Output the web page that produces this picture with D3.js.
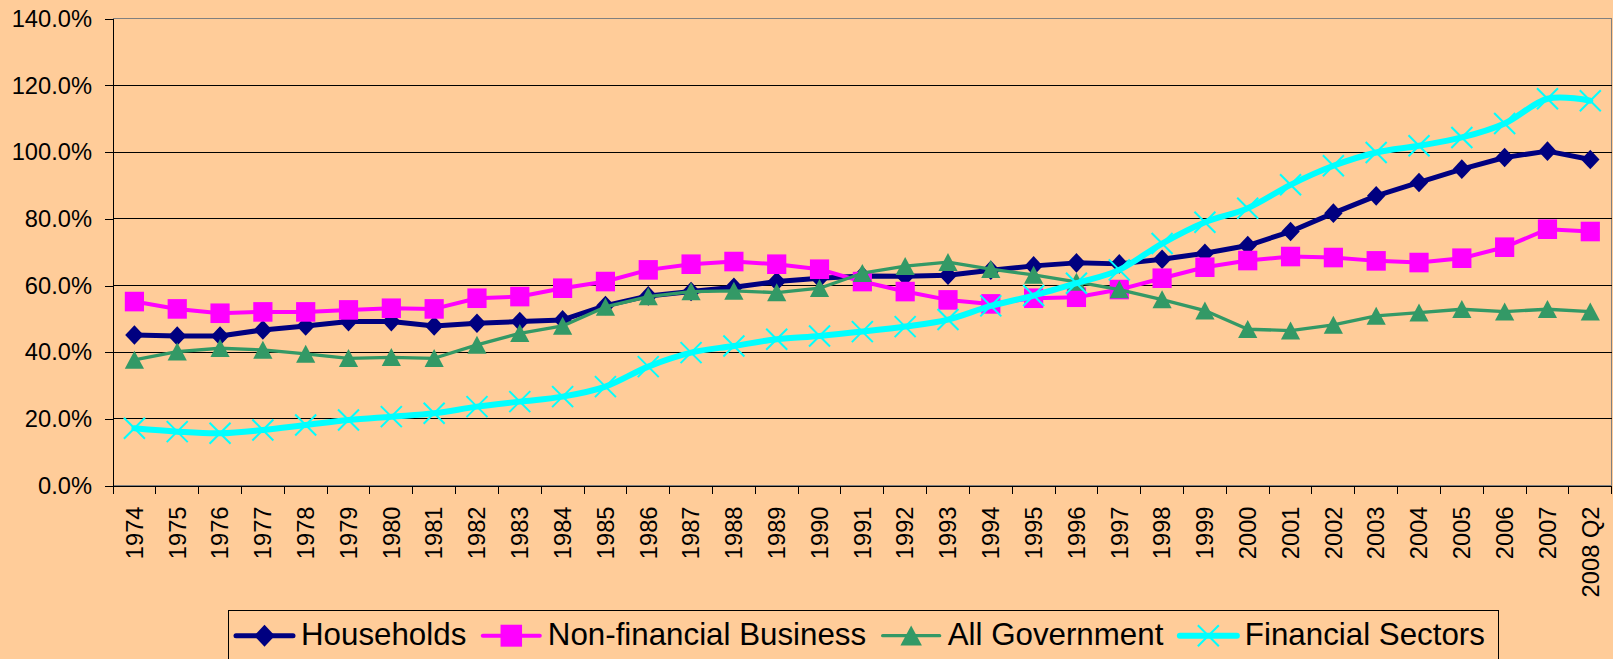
<!DOCTYPE html>
<html><head><meta charset="utf-8">
<script src="https://cdn.jsdelivr.net/npm/d3@7"></script>
<style>
html,body{margin:0;padding:0;background:#FFCC99;}
svg{display:block;}
text{font-family:"Liberation Sans",Arial,sans-serif;fill:#000;}
</style></head><body>
<svg id="chart" width="1613" height="659"></svg>
<script>
// ---------------- data ----------------
const categories = ["1974","1975","1976","1977","1978","1979","1980","1981","1982","1983",
  "1984","1985","1986","1987","1988","1989","1990","1991","1992","1993","1994","1995",
  "1996","1997","1998","1999","2000","2001","2002","2003","2004","2005","2006","2007","2008 Q2"];
const households = [45.2,44.9,44.9,46.7,47.9,49.2,49.2,47.9,48.7,49.2,49.7,54.0,56.9,58.2,59.5,61.2,62.2,62.9,62.8,63.1,64.6,65.9,66.8,66.5,67.9,69.7,72.0,76.2,81.7,86.9,90.9,94.9,98.4,100.3,97.8];
const nonFinancialBusiness = [55.2,53.0,51.7,52.1,52.1,52.7,53.2,53.0,56.2,56.7,59.2,61.2,64.7,66.4,67.2,66.4,64.9,61.2,58.2,55.7,54.5,56.2,56.5,58.8,62.2,65.5,67.5,68.7,68.4,67.4,66.9,68.2,71.5,76.9,76.2];
const allGovernment = [37.7,40.2,41.2,40.7,39.5,38.2,38.5,38.2,42.2,45.7,47.9,53.6,56.7,58.2,58.4,57.9,59.2,63.7,65.8,67.0,64.9,63.2,61.1,58.8,55.8,52.5,46.9,46.5,48.2,50.9,51.9,52.9,52.2,52.9,52.2];
const financialSectors = [17.2,16.2,15.7,16.7,18.2,19.7,20.7,21.7,23.7,25.2,26.7,29.7,35.7,39.9,41.9,43.9,44.9,46.2,47.7,49.8,53.9,57.0,60.7,64.7,72.6,79.0,83.2,90.2,95.9,99.9,101.9,104.4,108.6,116.0,115.4];
const seriesNames = ["Households","Non-financial Business","All Government","Financial Sectors"];
const yTickValues = [0,20,40,60,80,100,120,140];

// ---------------- styles ----------------
const seriesValues = [households, nonFinancialBusiness, allGovernment, financialSectors];
const styles = [
  {color:"#000080", width:5,   marker:"diamond", smooth:false},
  {color:"#FF00FF", width:4,   marker:"square",  smooth:false},
  {color:"#339966", width:3.3, marker:"triangle",smooth:false},
  {color:"#00FFFF", width:6,   marker:"x",       smooth:true}
];
const series = seriesNames.map((n,i)=>({name:n, values:seriesValues[i], style:styles[i]}));

const svg = d3.select("#chart");
const L = 113, R = 1611.7, T = 18.7, B = 485.7;

const x = d3.scaleBand().domain(categories).range([L, R]).padding(0);
const y = d3.scaleLinear().domain([0, 140]).range([B, T]);
const cx = c => x(c) + x.bandwidth()/2;

// plot border
svg.append("rect").attr("x", L).attr("y", T).attr("width", R-L).attr("height", B-T)
  .attr("fill", "none").attr("stroke", "#808080").attr("stroke-width", 1)
  .attr("shape-rendering","crispEdges");

// gridlines
svg.append("g").selectAll("line").data(yTickValues.filter(v=>v>0 && v<140)).join("line")
  .attr("x1", L).attr("x2", R).attr("y1", d=>y(d)).attr("y2", d=>y(d))
  .attr("stroke", "#000").attr("stroke-width", 1).attr("shape-rendering","crispEdges");

// y axis
const yAxis = svg.append("g").attr("transform", `translate(${L},0)`)
  .call(d3.axisLeft(y).tickValues(yTickValues).tickSize(8).tickPadding(13)
    .tickFormat(d => d.toFixed(1) + "%"));
yAxis.selectAll("path,line").attr("stroke","#000").attr("shape-rendering","crispEdges");
yAxis.selectAll("text").style("font-size","23.7px").style("font-family",'"Liberation Sans",Arial,sans-serif').attr("fill","#000");

// x axis
const xAxis = svg.append("g").attr("transform", `translate(0,${B})`)
  .call(d3.axisBottom(x).tickSize(0).tickSizeOuter(0));
xAxis.select(".domain").attr("stroke","#000").attr("shape-rendering","crispEdges");
xAxis.selectAll("text")
  .style("font-size","23.7px").style("font-family",'"Liberation Sans",Arial,sans-serif')
  .attr("fill","#000")
  .attr("transform","rotate(-90)")
  .attr("x",-20.8).attr("y",0).attr("dy","0.35em")
  .style("text-anchor","end");
// tick marks at category boundaries
const boundaries = categories.map(c => x(c)).concat([R]);
svg.append("g").selectAll("line").data(boundaries).join("line")
  .attr("x1", d=>d).attr("x2", d=>d).attr("y1", B).attr("y2", B+8.5)
  .attr("stroke","#000").attr("shape-rendering","crispEdges");

// marker shapes
function markerPath(type, big){
  const k = big ? 1.12 : 1;
  switch(type){
    case "diamond": return `M0,${-9.8*k}L${9.2*k},0L0,${9.8*k}L${-9.2*k},0Z`;
    case "square": return `M${-9.6*k},${-9.8*k}H${9.6*k}V${9.8*k}H${-9.6*k}Z`;
    case "triangle": return `M0,${-9.2*k}L${9.6*k},${8.8*k}L${-9.6*k},${8.8*k}Z`;
    case "x": return "M-10.5,-10.5L10.5,10.5M10.5,-10.5L-10.5,10.5";
  }
}
function drawMarker(g, type, color, big){
  const p = g.append("path").attr("d", markerPath(type, big));
  if (type === "x") p.attr("fill","none").attr("stroke", color).attr("stroke-width", 2);
  else p.attr("fill", color).attr("stroke","none");
}

// series
series.forEach(s => {
  const line = d3.line()
    .x((d,i) => cx(categories[i]))
    .y(d => y(d))
    .curve(s.style.smooth ? d3.curveCardinal.tension(0) : d3.curveLinear);
  const g = svg.append("g");
  g.append("path").attr("d", line(s.values)).attr("fill","none")
    .attr("stroke", s.style.color).attr("stroke-width", s.style.width)
    .attr("stroke-linejoin","round").attr("stroke-linecap","round");
  g.selectAll("g.m").data(s.values).join("g").attr("class","m")
    .attr("transform", (d,i) => `translate(${cx(categories[i])},${y(d)})`)
    .each(function(){ drawMarker(d3.select(this), s.style.marker, s.style.color, false); });
});

// legend
const legend = svg.append("g");
legend.append("rect").attr("x", 228.3).attr("y", 610.7).attr("width", 1498.3-228.3).attr("height", 60)
  .attr("fill","#FFCC99").attr("stroke","#000").attr("stroke-width",1).attr("shape-rendering","crispEdges");
let lx = 236;
const ly = 635.7;
series.forEach(s => {
  const g = legend.append("g");
  g.append("line").attr("x1", lx).attr("x2", lx+57).attr("y1", ly).attr("y2", ly)
    .attr("stroke", s.style.color).attr("stroke-width", s.style.width).attr("stroke-linecap","round");
  const mg = g.append("g").attr("transform", `translate(${lx+28.5},${ly})`);
  drawMarker(mg, s.style.marker, s.style.color, true);
  const t = g.append("text").attr("x", lx+65).attr("y", 645.3)
    .style("font-size","31.3px").text(s.name);
  lx = lx + 65 + t.node().getComputedTextLength() + 16.5;
});
</script>
</body></html>
